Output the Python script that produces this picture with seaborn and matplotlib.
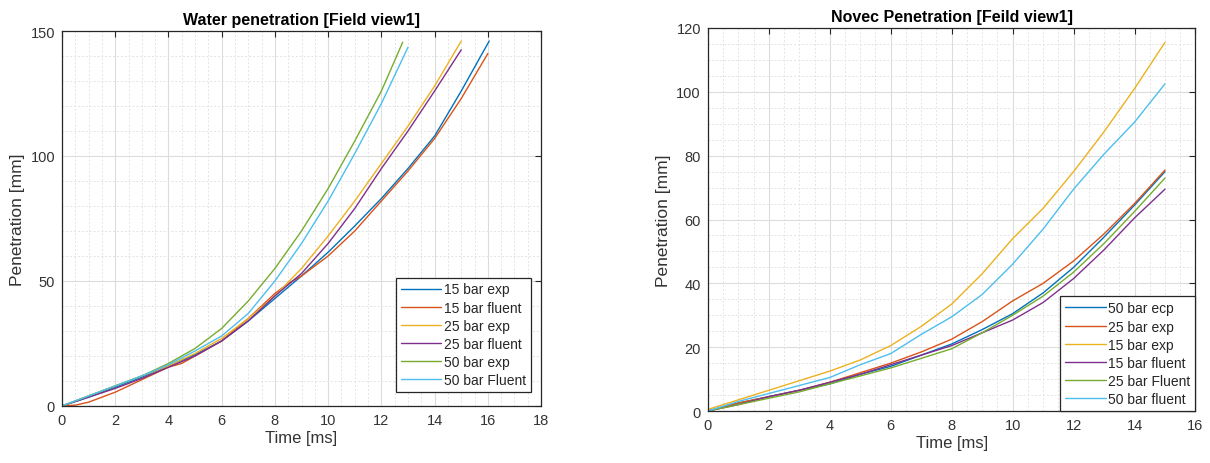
import numpy as np
import pandas as pd
import matplotlib
matplotlib.use("Agg")
import matplotlib.pyplot as plt
from matplotlib.ticker import MultipleLocator
import seaborn as sns

# ---------------- Water penetration data ----------------
water_t_15exp = [0, 1, 2, 3, 4, 5, 6, 7, 8, 9, 10, 11, 12, 13, 14, 15, 16.05]
water_p_15exp = [0, 3.5, 7.5, 11.5, 16, 20.5, 26, 34, 43, 52, 61.5, 72, 83, 95, 108, 126, 146]

water_t_15flu = [0, 0.5, 1, 2, 3, 4, 4.5, 5, 6, 7, 7.5, 8, 8.5, 9, 10, 11, 12, 13, 14, 15, 16]
water_p_15flu = [0, 0.3, 1.5, 5.5, 10.5, 15.5, 17, 20, 26, 35, 40, 45, 49, 52, 60, 70, 82, 94, 107, 123, 141]

water_t_25exp = [0, 1, 2, 3, 4, 5, 6, 7, 8, 9, 10, 11, 12, 13, 14, 15]
water_p_25exp = [0, 4, 8, 12, 16, 21, 27, 35, 44, 55, 68, 82, 97, 112, 128, 146]

water_t_25flu = [0, 1, 2, 3, 4, 5, 6, 7, 8, 9, 10, 11, 12, 13, 14, 15]
water_p_25flu = [0, 3.5, 7, 11, 15.5, 20, 26, 34, 44, 53, 65, 79, 95, 110, 126, 142.5]

water_t_50exp = [0, 1, 2, 3, 4, 5, 6, 7, 8, 9, 10, 11, 12, 12.8]
water_p_50exp = [0, 4, 8, 12, 17, 23, 31, 42, 55, 70, 87, 106, 126, 145.5]

water_t_50flu = [0, 1, 2, 3, 4, 5, 6, 7, 8, 9, 10, 11, 12, 13]
water_p_50flu = [0, 4, 8, 12, 16.5, 22, 28, 37, 50, 65, 82, 101, 121, 143.5]

water_labels = ["15 bar exp", "15 bar fluent", "25 bar exp", "25 bar fluent", "50 bar exp", "50 bar Fluent"]

# ---------------- Novec penetration data ----------------
novec_t = [0, 1, 2, 3, 4, 5, 6, 7, 8, 9, 10, 11, 12, 13, 14, 15]
novec_p_50ecp = [0, 2.5, 4.5, 6.5, 8.5, 11.5, 14, 17.5, 21, 25.5, 30.5, 37, 45, 54.5, 64.5, 75]
novec_p_25exp = [0, 2.5, 4.5, 6.5, 9, 12, 15, 18.5, 22.5, 28, 34.5, 40, 47, 55.5, 65, 75.5]
novec_p_15exp = [0.5, 3.5, 6.5, 9.5, 12.5, 16, 20.5, 26.5, 33.5, 43, 54, 63.5, 75, 87.5, 101, 115.5]
novec_p_15flu = [0, 2, 4.5, 6.5, 9, 11.5, 14.5, 17.5, 20.5, 24.5, 28.5, 34, 41.5, 50.5, 60.5, 69.5]
novec_p_25flu = [0, 2, 4, 6, 8.5, 11, 13.5, 16.5, 19.5, 24.5, 30, 36, 43.5, 52.5, 62.5, 73]
novec_p_50flu = [0, 3, 5.5, 8, 10.5, 14.5, 18, 24, 29.5, 36.5, 46, 57, 69.5, 80.5, 90.5, 102.5]

novec_labels = ["50 bar ecp", "25 bar exp", "15 bar exp", "15 bar fluent", "25 bar Fluent", "50 bar fluent"]

matlab_colors = ["#0072BD", "#D95319", "#EDB120", "#7E2F8E", "#77AC30", "#4DBEEE"]

# ---------------- Build long tables ----------------
water_series = [(water_t_15exp, water_p_15exp), (water_t_15flu, water_p_15flu),
                (water_t_25exp, water_p_25exp), (water_t_25flu, water_p_25flu),
                (water_t_50exp, water_p_50exp), (water_t_50flu, water_p_50flu)]
rows = []
for lab, (tt, pp) in zip(water_labels, water_series):
    for i, (a, b) in enumerate(zip(tt, pp)):
        rows.append({"Time": a, "Pen": b, "Series": lab, "idx": i})
df_water = pd.DataFrame(rows)

novec_series = [novec_p_50ecp, novec_p_25exp, novec_p_15exp, novec_p_15flu, novec_p_25flu, novec_p_50flu]
rows = []
for lab, pp in zip(novec_labels, novec_series):
    for i, (a, b) in enumerate(zip(novec_t, pp)):
        rows.append({"Time": a, "Pen": b, "Series": lab, "idx": i})
df_novec = pd.DataFrame(rows)

sns.set_style("white")
plt.rcParams['font.family'] = ['Liberation Sans', 'DejaVu Sans']

fig = plt.figure(figsize=(12.1, 4.64), dpi=100)
ax1 = fig.add_axes([0.0512, 0.123, 0.396, 0.808])
ax2 = fig.add_axes([0.585, 0.112, 0.403, 0.8255])

def style_axes(ax, xmax, ymax, xmaj, ymaj, xmin, ymin):
    ax.set_xlim(0, xmax)
    ax.set_ylim(0, ymax)
    ax.xaxis.set_major_locator(MultipleLocator(xmaj))
    ax.yaxis.set_major_locator(MultipleLocator(ymaj))
    ax.xaxis.set_minor_locator(MultipleLocator(xmin))
    ax.yaxis.set_minor_locator(MultipleLocator(ymin))
    ax.grid(which="major", color="#dcdcdc", linewidth=0.8, linestyle="-")
    ax.grid(which="minor", color="#e4e4e4", linewidth=0.7, linestyle=(0, (2, 2)))
    ax.set_axisbelow(True)
    for s in ax.spines.values():
        s.set_visible(True)
        s.set_color("#262626")
        s.set_linewidth(0.9)
    ax.tick_params(which="major", direction="in", length=4, width=0.8, color="#262626",
                   top=True, right=True, labelsize=10.5, labelcolor="#333333", pad=5)
    ax.tick_params(which="minor", length=0)

for ax, df, labels, title, (xmax, ymax, xmaj, ymaj, xmin, ymin), legpad in [
        (ax1, df_water, water_labels, "Water penetration [Field view1]", (18, 150, 2, 50, 0.5, 10), (0.022, 0.037)),
        (ax2, df_novec, novec_labels, "Novec Penetration [Feild view1]", (16, 120, 2, 20, 0.5, 5), (0.0, 0.0))]:
    sns.lineplot(data=df, x="Time", y="Pen", hue="Series", hue_order=labels,
                 palette=matlab_colors, estimator=None, sort=False, units="Series",
                 linewidth=1.0, ax=ax)
    style_axes(ax, xmax, ymax, xmaj, ymaj, xmin, ymin)
    ax.set_xlabel("Time [ms]", fontsize=12, color="#333333", labelpad=2)
    ax.set_ylabel("Penetration [mm]", fontsize=12.5, color="#333333", labelpad=4)
    ax.set_title(title, fontsize=11.5, fontweight="bold", color="#000000", pad=5)
    handles, labs = ax.get_legend_handles_labels()
    leg = ax.legend(handles, labs, loc="lower right", fontsize=10, frameon=True,
                    fancybox=False, edgecolor="#262626", framealpha=1.0,
                    handlelength=2.9, handletextpad=0.2, labelspacing=0.3,
                    borderpad=0.35, borderaxespad=0.0,
                    bbox_to_anchor=(1 - legpad[0], legpad[1]))
    leg.get_frame().set_linewidth(0.9)
    for ln in leg.get_lines():
        ln.set_linewidth(1.0)

fig.savefig("out.png", dpi=100)
